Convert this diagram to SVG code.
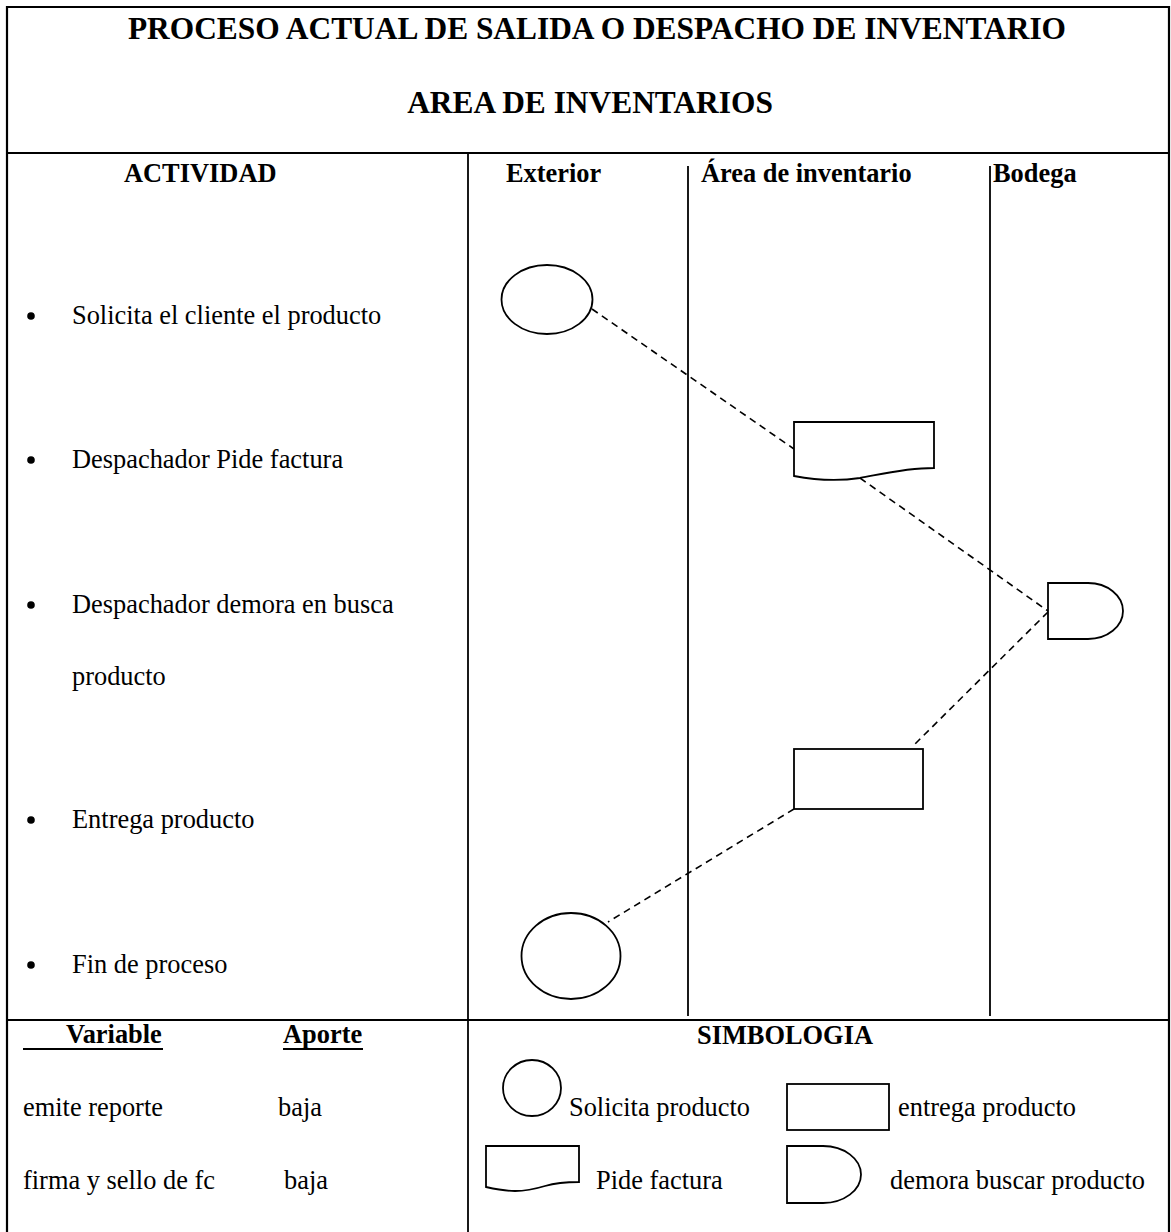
<svg xmlns="http://www.w3.org/2000/svg" width="1171" height="1232" viewBox="0 0 1171 1232">
  <style>
    text { font-family: "Liberation Serif", "Times New Roman", serif; fill: #000; }
    .title { font-size: 31.4px; font-weight: bold; text-anchor: middle; }
    .head { font-size: 26.4px; font-weight: bold; }
    .body { font-size: 26.4px; }
    .frame { stroke: #000; stroke-width: 2.2; fill: none; }
    .lane { stroke: #000; stroke-width: 1.8; fill: none; }
    .shape { stroke: #000; stroke-width: 1.8; fill: #fff; }
    .flow { stroke: #000; stroke-width: 1.6; stroke-dasharray: 7 5; fill: none; }
    .uline { stroke: #000; stroke-width: 2; }
    .bullet { fill: #000; }
  </style>

  <rect width="1171" height="1232" fill="#fff"/>

  <!-- table frame and dividers -->
  <g id="frame">
    <line class="frame" x1="7" y1="7" x2="1169" y2="7"/>
    <line class="frame" x1="7" y1="6" x2="7" y2="1232"/>
    <line class="frame" x1="1169" y1="6" x2="1169" y2="1232"/>
    <line class="frame" x1="7" y1="153" x2="1169" y2="153"/>
    <line class="frame" x1="7" y1="1020" x2="1169" y2="1020"/>
    <line class="lane" x1="468" y1="153" x2="468" y2="1232"/>
    <line class="lane" x1="688" y1="166" x2="688" y2="1016"/>
    <line class="lane" x1="990" y1="166" x2="990" y2="1016"/>
  </g>

  <!-- heading -->
  <g id="title">
    <text class="title" x="597" y="39">PROCESO ACTUAL DE SALIDA O DESPACHO DE INVENTARIO</text>
    <text class="title" x="590" y="113">AREA DE INVENTARIOS</text>
  </g>

  <!-- column headers -->
  <g id="headers">
    <text class="head" x="124" y="182">ACTIVIDAD</text>
    <text class="head" x="506" y="182">Exterior</text>
    <text class="head" x="701" y="182">Área de inventario</text>
    <text class="head" x="993" y="182">Bodega</text>
  </g>

  <!-- activity list -->
  <g id="activities">
    <circle class="bullet" cx="31" cy="316" r="3.8"/>
    <text class="body" x="72" y="324">Solicita el cliente el producto</text>
    <circle class="bullet" cx="31" cy="460" r="3.8"/>
    <text class="body" x="72" y="468">Despachador Pide factura</text>
    <circle class="bullet" cx="31" cy="605" r="3.8"/>
    <text class="body" x="72" y="613">Despachador demora en busca</text>
    <text class="body" x="72" y="685">producto</text>
    <circle class="bullet" cx="31" cy="820" r="3.8"/>
    <text class="body" x="72" y="828">Entrega producto</text>
    <circle class="bullet" cx="31" cy="965" r="3.8"/>
    <text class="body" x="72" y="973">Fin de proceso</text>
  </g>

  <!-- dashed flow between steps -->
  <g id="connectors">
    <line class="flow" x1="592" y1="309" x2="794" y2="449"/>
    <line class="flow" x1="860" y1="478" x2="1048" y2="611"/>
    <line class="flow" x1="1048" y1="612" x2="914" y2="745"/>
    <line class="flow" x1="794" y1="809" x2="608" y2="922"/>
  </g>

  <!-- process steps -->
  <g id="step-solicita">
    <ellipse class="shape" cx="547" cy="299.5" rx="45.5" ry="34.5"/>
  </g>
  <g id="step-factura">
    <path class="shape" d="M794,422 H934 V468 C905,468 882,474 860,478 C840,481 815,480 794,476 Z"/>
  </g>
  <g id="step-demora">
    <path class="shape" d="M1048,583 H1088 A35,28 0 0 1 1088,639 H1048 Z"/>
  </g>
  <g id="step-entrega">
    <rect class="shape" x="794" y="749" width="129" height="60"/>
  </g>
  <g id="step-fin">
    <ellipse class="shape" cx="571" cy="956" rx="49.5" ry="43"/>
  </g>

  <!-- variable / contribution table -->
  <g id="variables">
    <text class="head" x="66" y="1043">Variable</text>
    <line class="uline" x1="23" y1="1049" x2="163" y2="1049"/>
    <text class="head" x="283" y="1043">Aporte</text>
    <line class="uline" x1="283" y1="1049" x2="363" y2="1049"/>
    <text class="body" x="23" y="1116">emite reporte</text>
    <text class="body" x="278" y="1116">baja</text>
    <text class="body" x="23" y="1189">firma y sello de fc</text>
    <text class="body" x="284" y="1189">baja</text>
  </g>

  <!-- symbol legend -->
  <g id="legend">
    <text class="head" x="785" y="1044" text-anchor="middle">SIMBOLOGIA</text>
    <ellipse class="shape" cx="532" cy="1088" rx="29" ry="28"/>
    <text class="body" x="569" y="1116">Solicita producto</text>
    <rect class="shape" x="787" y="1084" width="102" height="46"/>
    <text class="body" x="898" y="1116">entrega producto</text>
    <path class="shape" d="M486,1146 H579 V1182 C565,1182 555,1183 545,1186 C535,1189 525,1191 515,1191 C505,1191 495,1189 486,1187 Z"/>
    <text class="body" x="596" y="1189">Pide factura</text>
    <path class="shape" d="M787,1146 H823 A38,28.5 0 0 1 823,1203 H787 Z"/>
    <text class="body" x="890" y="1189">demora buscar producto</text>
  </g>
</svg>
